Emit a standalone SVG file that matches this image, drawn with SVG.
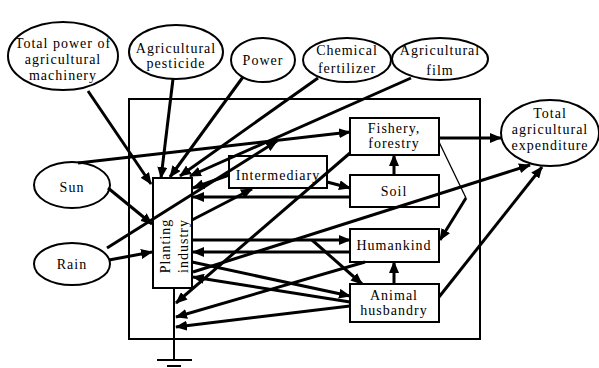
<svg xmlns="http://www.w3.org/2000/svg" width="599" height="368" viewBox="0 0 599 368">
<defs>
<marker id="ah" markerUnits="userSpaceOnUse" markerWidth="12" markerHeight="10" refX="11" refY="5" orient="auto">
<path d="M0,0 L12,5 L0,10 z" fill="#000"/>
</marker>
<style>
.n{fill:#fff;stroke:#000;stroke-width:2}
.t{font-family:"Liberation Serif","Times New Roman",serif;font-size:14px;letter-spacing:1px;fill:#000;text-anchor:middle}
.c line{stroke:#000;stroke-width:3;fill:none}
.c .a{marker-end:url(#ah)}
.c .thin{stroke-width:1.3}
</style>
</defs>
<rect width="599" height="368" fill="#fff"/>
<rect x="129" y="99" width="351" height="240" fill="none" stroke="#000" stroke-width="2"/>
<g id="ground" stroke="#000" stroke-width="2">
<line x1="174" y1="288" x2="174" y2="360"/>
<line x1="157" y1="360" x2="192" y2="360"/>
<line x1="167" y1="366" x2="181" y2="366"/>
</g>
<g id="machinery"><ellipse class="n" cx="63" cy="56" rx="55" ry="34"/><text class="t" x="63" y="48">Total power of</text><text class="t" x="63" y="64">agricultural</text><text class="t" x="63" y="80">machinery</text></g>
<g id="pesticide"><ellipse class="n" cx="176" cy="52" rx="47" ry="27"/><text class="t" x="176" y="53">Agricultural</text><text class="t" x="176" y="68">pesticide</text></g>
<g id="power"><ellipse class="n" cx="263" cy="60" rx="32" ry="22"/><text class="t" x="263" y="65">Power</text></g>
<g id="fertilizer"><ellipse class="n" cx="347" cy="60" rx="44" ry="22"/><text class="t" x="347" y="55">Chemical</text><text class="t" x="347" y="73">fertilizer</text></g>
<g id="film"><ellipse class="n" cx="440" cy="59" rx="48" ry="21"/><text class="t" x="440" y="55">Agricultural</text><text class="t" x="440" y="75">film</text></g>
<g id="expenditure"><ellipse class="n" cx="550" cy="133" rx="49" ry="33"/><text class="t" x="550" y="118">Total</text><text class="t" x="550" y="134">agricultural</text><text class="t" x="550" y="150">expenditure</text></g>
<g id="sun"><ellipse class="n" cx="72" cy="185" rx="38" ry="23"/><text class="t" x="72" y="192">Sun</text></g>
<g id="rain"><ellipse class="n" cx="72" cy="264" rx="38" ry="21"/><text class="t" x="72" y="269">Rain</text></g>
<g id="planting"><rect class="n" x="153" y="178" width="39" height="110"/><text class="t" transform="translate(170,246) rotate(-90)">Planting</text><text class="t" transform="translate(188,246) rotate(-90)">industry</text></g>
<g id="intermediary"><rect class="n" x="229" y="156" width="98" height="32"/><text class="t" x="278" y="180">Intermediary</text></g>
<g id="fishery"><rect class="n" x="350" y="118" width="89" height="37"/><text class="t" x="394" y="133">Fishery,</text><text class="t" x="394" y="148">forestry</text></g>
<g id="soil"><rect class="n" x="350" y="175" width="89" height="32"/><text class="t" x="394" y="196">Soil</text></g>
<g id="humankind"><rect class="n" x="350" y="229" width="89" height="33"/><text class="t" x="394" y="250">Humankind</text></g>
<g id="animal"><rect class="n" x="350" y="284" width="89" height="38"/><text class="t" x="394" y="300">Animal</text><text class="t" x="394" y="315">husbandry</text></g>
<g class="c" id="connectors">
<line class="a" x1="88" y1="91" x2="151" y2="184"/>
<line class="a" x1="173" y1="79" x2="161" y2="178"/>
<line class="a" x1="243" y1="77" x2="170" y2="177"/>
<line class="a" x1="318" y1="78" x2="180" y2="176"/>
<line class="a" x1="411" y1="78" x2="190" y2="176"/>
<line class="a" x1="78" y1="163" x2="350" y2="132"/>
<line class="a" x1="107" y1="248" x2="277" y2="141"/>
<line class="a" x1="229" y1="175" x2="193" y2="188"/>
<line class="a" x1="350" y1="197" x2="193" y2="197"/>
<line class="a" x1="108" y1="188" x2="152" y2="224"/>
<line class="a" x1="109" y1="260" x2="152" y2="252"/>
<line class="a" x1="192" y1="220" x2="252" y2="189"/>
<line class="a" x1="327" y1="182" x2="350" y2="188"/>
<line class="a" x1="394" y1="175" x2="394" y2="155"/>
<line class="a" x1="439" y1="138" x2="501" y2="138"/>
<line class="thin" x1="439" y1="142" x2="466" y2="198"/>
<line class="a" x1="466" y1="198" x2="440" y2="240"/>
<line class="a" x1="193" y1="272" x2="530" y2="165"/>
<line class="a" x1="439" y1="297" x2="542" y2="167"/>
<line class="a" x1="193" y1="240" x2="350" y2="240"/>
<line class="a" x1="350" y1="252" x2="193" y2="252"/>
<line class="a" x1="312" y1="240" x2="362" y2="284"/>
<line class="a" x1="192" y1="262" x2="350" y2="296"/>
<line class="a" x1="350" y1="302" x2="193" y2="277"/>
<line class="a" x1="350" y1="153" x2="176" y2="303"/>
<line class="a" x1="365" y1="262" x2="176" y2="317"/>
<line class="a" x1="350" y1="306" x2="176" y2="327"/>
<line class="a" x1="394" y1="284" x2="394" y2="262"/>
</g>
</svg>
